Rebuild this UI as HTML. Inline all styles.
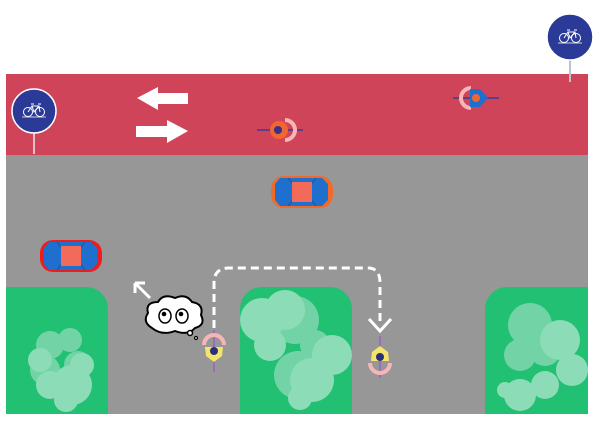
<!DOCTYPE html>
<html><head><meta charset="utf-8"><style>html,body{margin:0;padding:0;background:#fff}svg{display:block}</style></head><body>
<svg width="600" height="428" viewBox="0 0 600 428" xmlns="http://www.w3.org/2000/svg">
<defs>
<g id="bike">
<circle cx="-6" cy="2" r="4.5" fill="none" stroke="#fff" stroke-width="1"/>
<circle cx="6" cy="2" r="4.5" fill="none" stroke="#fff" stroke-width="1"/>
<path d="M-6 2 L-2 -4 L5 -4 L6 2 M-2 -4 L0 2 L5 -4 M-3 -6 L0 -6 M4 -6 L7 -6" fill="none" stroke="#fff" stroke-width="1"/>
<line x1="-12" y1="7" x2="12" y2="7" stroke="#fff" stroke-width="0.8"/>
</g>
<g id="car">
<rect x="-31" y="-16" width="62" height="32" rx="13" />
<path d="M-22 -14 L20 -14 L26 -8 L26 8 L20 14 L-22 14 L-27 8 L-27 -8 Z" fill="#1f6fcf"/>
<path d="M-14 -14 L-10 -9 L10 -9 L14 -14 M-14 14 L-10 9 L10 9 L14 14" fill="none" stroke="#16549e" stroke-width="1"/>
<rect x="-10" y="-10" width="20" height="20" fill="#f26a5a"/>
</g>
</defs>
<rect x="6" y="74" width="582" height="82" fill="#cf4459"/>
<rect x="6" y="155" width="582" height="259" fill="#979797"/>
<!-- green blocks -->
<path d="M6 287 H86 A22 22 0 0 1 108 309 V414 H6 Z" fill="#22c072"/>
<path d="M262 287 H330 A22 22 0 0 1 352 309 V414 H240 V309 A22 22 0 0 1 262 287 Z" fill="#22c072"/>
<path d="M507 287 H588 V414 H485 V309 A22 22 0 0 1 507 287 Z" fill="#22c072"/>
<!-- bushes -->
<g fill="#72d3a6">
<circle cx="50" cy="345" r="14"/><circle cx="70" cy="340" r="12"/><circle cx="45" cy="370" r="15"/><circle cx="78" cy="365" r="14"/>
<circle cx="295" cy="320" r="24"/><circle cx="315" cy="345" r="15"/><circle cx="298" cy="375" r="24"/>
<circle cx="530" cy="325" r="22"/><circle cx="520" cy="355" r="16"/><circle cx="545" cy="350" r="16"/>
</g>
<g fill="#8ddcb8">
<circle cx="40" cy="360" r="12"/><circle cx="50" cy="385" r="14"/><circle cx="72" cy="385" r="20"/><circle cx="82" cy="365" r="12"/><circle cx="66" cy="400" r="12"/>
<circle cx="262" cy="320" r="22"/><circle cx="285" cy="310" r="20"/><circle cx="270" cy="345" r="16"/><circle cx="312" cy="380" r="22"/><circle cx="332" cy="355" r="20"/><circle cx="300" cy="398" r="12"/>
<circle cx="560" cy="340" r="20"/><circle cx="572" cy="370" r="16"/><circle cx="545" cy="385" r="14"/><circle cx="520" cy="395" r="16"/><circle cx="505" cy="390" r="8"/>
</g>
<!-- signs -->
<line x1="34" y1="130" x2="34" y2="154" stroke="#e8c0c4" stroke-width="2"/>
<circle cx="34" cy="111" r="22" fill="#2a3a96" stroke="#fff" stroke-width="1.5"/>
<use href="#bike" x="34" y="110"/>
<line x1="570" y1="58" x2="570" y2="82" stroke="#c0c0c8" stroke-width="2"/>
<circle cx="570" cy="37" r="23" fill="#2a3a96" stroke="#fff" stroke-width="1.5"/>
<use href="#bike" x="570" y="36"/>
<!-- arrows -->
<path d="M137 98 L158 87 L158 93 L188 93 L188 104 L158 104 L158 110 Z" fill="#fff"/>
<path d="M188 131 L167 120 L167 126 L136 126 L136 137 L167 137 L167 143 Z" fill="#fff"/>
<!-- red band cyclists -->
<g transform="translate(280,130)">
<line x1="-23" y1="0" x2="23" y2="0" stroke="#3a3c98" stroke-width="1.5"/>
<path d="M5 -10 A10 10 0 0 1 5 10" fill="none" stroke="#f7b5b5" stroke-width="4"/>
<ellipse cx="-1" cy="0" rx="9" ry="9" fill="#f06530"/>
<circle cx="-2" cy="0" r="4" fill="#3a2f8a"/>
</g>
<g transform="translate(476,98)">
<line x1="-23" y1="0" x2="23" y2="0" stroke="#3a3c98" stroke-width="1.5"/>
<path d="M-5 -10 A10 10 0 0 0 -5 10" fill="none" stroke="#f7b5b5" stroke-width="4"/>
<path d="M-6 -9 L4 -9 L12 0 L4 9 L-6 9 Z" fill="#1f6fcf"/>
<circle cx="0" cy="0" r="4" fill="#f06530"/>
</g>
<!-- cars -->
<g transform="translate(302,192)" fill="#f26a2a"><use href="#car"/></g>
<g transform="translate(71,256)" fill="#ee1c1c"><use href="#car"/></g>
<!-- dashed path -->
<path d="M214 328 V283 Q214 268 229 268 H368 Q380 268 380 283 V326" fill="none" stroke="#fff" stroke-width="3" stroke-dasharray="8,5"/>
<path d="M369 319 L380 331 L391 319" fill="none" stroke="#fff" stroke-width="3"/>
<!-- up-left arrow -->
<path d="M150 298 L135 283 M135 283 L135 293 M135 283 L145 283" fill="none" stroke="#fff" stroke-width="3"/>
<!-- cloud -->
<g fill="#fff" stroke="#000" stroke-width="2">
<path d="M152 328 Q142 322 148 313 Q145 302 158 302 Q163 293 175 298 Q186 293 192 302 Q204 304 201 315 Q206 325 195 328 Q188 336 175 331 Q162 336 152 328 Z"/>
<circle cx="190" cy="333" r="2.5" stroke-width="1.5"/>
<circle cx="196" cy="338" r="1.5" stroke-width="1.2"/>
</g>
<ellipse cx="165" cy="316" rx="6" ry="7" fill="#fff" stroke="#000" stroke-width="1.5"/>
<ellipse cx="182" cy="316" rx="6" ry="7" fill="#fff" stroke="#000" stroke-width="1.5"/>
<circle cx="164" cy="314" r="2.3"/><circle cx="181" cy="314" r="2.3"/>
<!-- yellow cyclists -->
<g transform="translate(214,350)">
<line x1="0" y1="-20" x2="0" y2="22" stroke="#9b5fc0" stroke-width="1.5"/>
<path d="M-10 -5 A10 10 0 0 1 10 -5" fill="none" stroke="#f7b5b5" stroke-width="4"/>
<path d="M-9 -3 L9 -3 L8 6 L0 12 L-8 6 Z" fill="#f5e46a"/>
<circle cx="0" cy="1" r="4" fill="#2a2f7a"/>
</g>
<g transform="translate(380,358)">
<line x1="0" y1="-22" x2="0" y2="20" stroke="#9b5fc0" stroke-width="1.5"/>
<path d="M-10 5 A10 10 0 0 0 10 5" fill="none" stroke="#f7b5b5" stroke-width="4"/>
<path d="M0 -12 L8 -6 L9 3 L-9 3 L-8 -6 Z" fill="#f5e46a"/>
<circle cx="0" cy="-1" r="4" fill="#2a2f7a"/>
</g>
</svg>
</body></html>
